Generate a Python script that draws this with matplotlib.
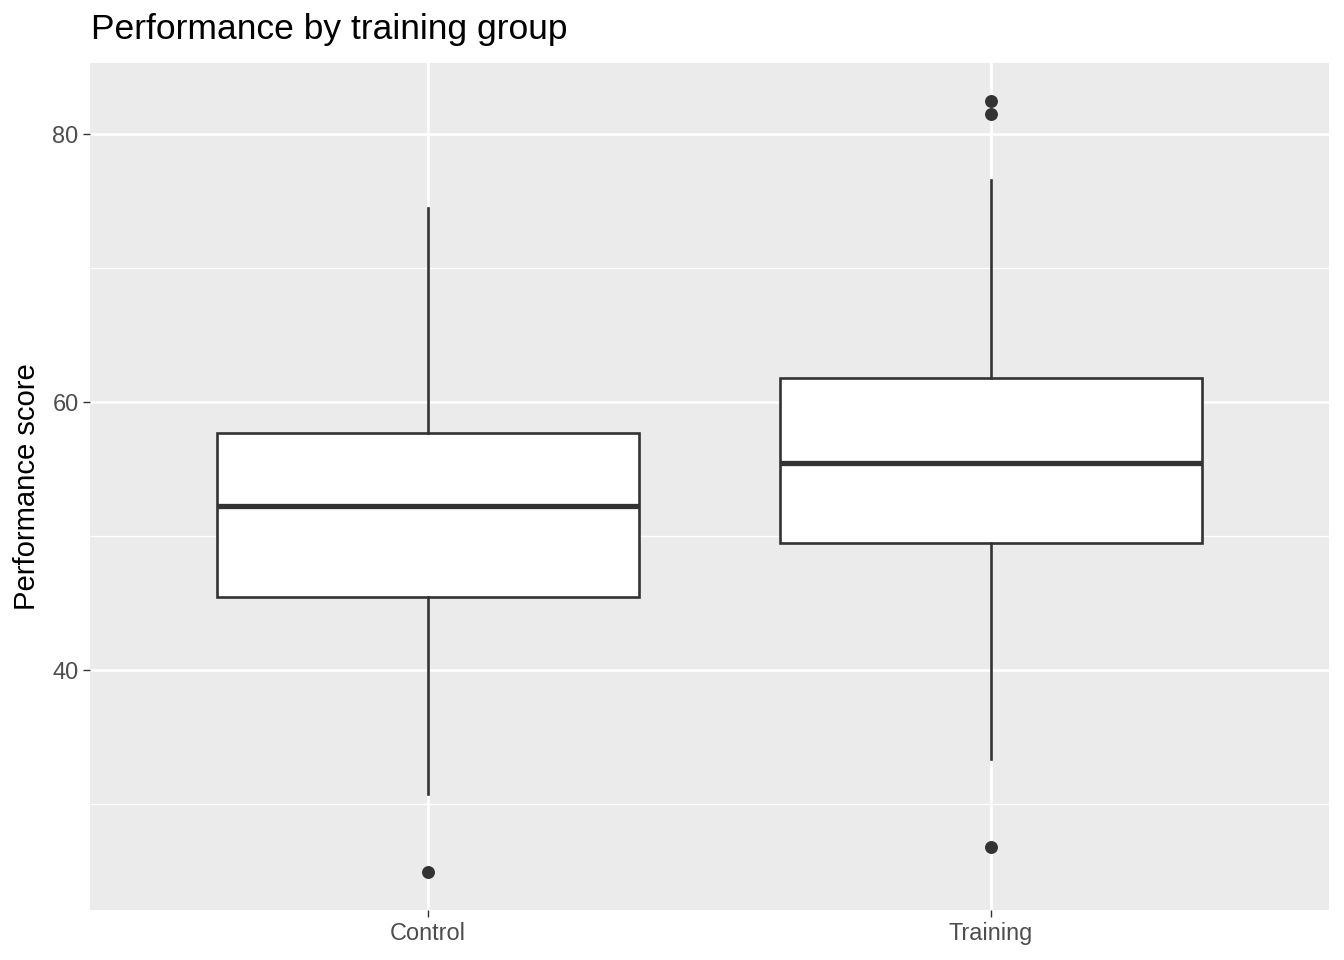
import matplotlib
matplotlib.use("Agg")
import matplotlib.pyplot as plt

plt.rcParams['font.family'] = ['Liberation Sans', 'DejaVu Sans']

categories = ["Control", "Training"]
whisker_low = [30.8, 33.4]
q1 = [45.5, 49.5]
median = [52.3, 55.45]
q3 = [57.7, 61.8]
whisker_high = [74.5, 76.6]
outliers = [[25.0], [26.8, 81.5, 82.45]]

title = "Performance by training group"
ylabel = "Performance score"
yticks = [40, 60, 80]
yminor = [30, 50, 70]

fig = plt.figure(figsize=(13.44, 9.6), dpi=100)
ax = fig.add_axes([90/1344, 50/960, (1329-90)/1344, (910-63)/960])
ax.set_facecolor("#EBEBEB")

stats = []
for i, c in enumerate(categories):
    stats.append(dict(label=c, whislo=whisker_low[i], q1=q1[i], med=median[i],
                      q3=q3[i], whishi=whisker_high[i], fliers=outliers[i]))

lw = 1.9
ax.bxp(stats, positions=[1, 2], widths=0.75, patch_artist=True, showcaps=False,
       boxprops=dict(facecolor="white", edgecolor="#333333", linewidth=lw),
       whiskerprops=dict(color="#333333", linewidth=lw),
       medianprops=dict(color="#333333", linewidth=lw*2),
       flierprops=dict(marker="o", markerfacecolor="#333333", markeredgecolor="#333333",
                       markersize=8.3, linestyle="none"),
       zorder=3)

allv = whisker_low + whisker_high + [v for o in outliers for v in o]
lo, hi = min(allv), max(allv)
pad = 0.05 * (hi - lo)
ax.set_ylim(lo - pad, hi + pad)
ax.set_xlim(0.4, 2.6)

ax.set_yticks(yticks)
ax.set_yticks(yminor, minor=True)
ax.set_xticks([1, 2])
ax.set_xticklabels(categories)
ax.grid(which="major", color="white", linewidth=1.9, zorder=0)
ax.grid(which="minor", axis="y", color="white", linewidth=0.95, zorder=0)
ax.set_axisbelow(True)
for s in ax.spines.values():
    s.set_visible(False)
ax.tick_params(which="major", length=5.3, width=1.0, color="#333333",
               labelcolor="#4D4D4D", labelsize=16.9, pad=3)
ax.tick_params(which="minor", length=0)

ax.set_ylabel(ylabel, fontsize=21.1, color="black", labelpad=8)
fig.text(91/1344, 1 - 30/960, title, fontsize=25.5, color="black", ha="left", va="center")

fig.savefig("out.png", dpi=100)
